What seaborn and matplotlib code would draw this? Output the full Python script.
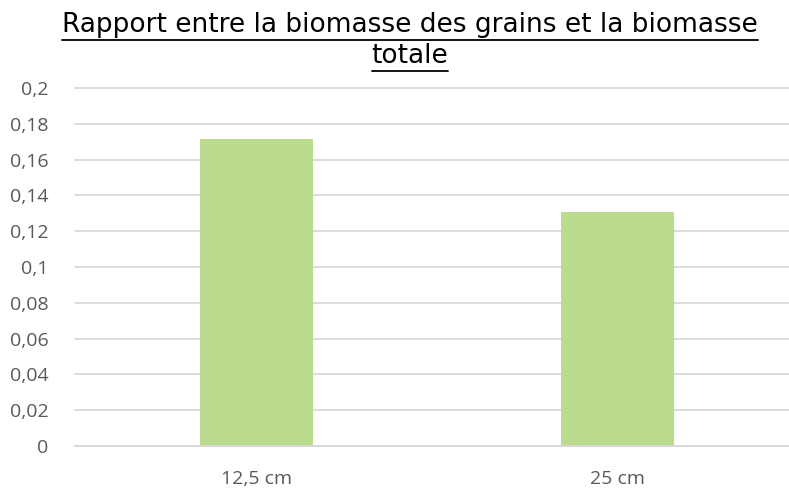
import matplotlib
matplotlib.use("Agg")
import matplotlib.pyplot as plt
import seaborn as sns
from matplotlib.lines import Line2D

categories = ["12,5 cm", "25 cm"]
values = [0.1715, 0.1307]
y_ticks = [0, 0.02, 0.04, 0.06, 0.08, 0.1, 0.12, 0.14, 0.16, 0.18, 0.2]
y_tick_labels = ["0", "0,02", "0,04", "0,06", "0,08", "0,1", "0,12", "0,14", "0,16", "0,18", "0,2"]
title_lines = ["Rapport entre la biomasse des grains et la biomasse", "totale"]

sns.set_theme(style="white")
plt.rcParams["font.family"] = ["Open Sans", "DejaVu Sans"]

W, H = 789, 488
fig = plt.figure(figsize=(W / 100, H / 100), dpi=100)
ax = fig.add_axes([75 / W, 1 - 446 / H, (789 - 75) / W, (446 - 88) / H])

sns.barplot(x=categories, y=values, color="#BBDC8E", saturation=1, width=0.313,
            linewidth=0, edgecolor="none", ax=ax)

ax.set_xlim(-0.503, 1.475)
ax.set_ylim(0, 0.2)
ax.set_yticks(y_ticks)
ax.set_yticklabels(y_tick_labels)
ax.yaxis.grid(True, color="#D9D9D9", linewidth=1.3)
for gl in ax.get_ygridlines():
    gl.set_clip_on(False)
ax.set_axisbelow(True)
for s in ["top", "right", "left"]:
    ax.spines[s].set_visible(False)
ax.spines["bottom"].set_color("#D9D9D9")
ax.spines["bottom"].set_linewidth(1.3)
ax.tick_params(axis="y", length=0, pad=19, labelsize=14, labelcolor="#595959")
ax.tick_params(axis="x", length=0, pad=17, labelsize=14, labelcolor="#595959")
ax.set_xlabel("")
ax.set_ylabel("")

# Title with underline
tx = 410 / W
t1 = fig.text(tx, 1 - 25 / H, title_lines[0], ha="center", va="center",
              fontsize=19, color="#000000", family=["DejaVu Sans"])
t2 = fig.text(tx, 1 - 56 / H, title_lines[1], ha="center", va="center",
              fontsize=19, color="#000000", family=["DejaVu Sans"])
fig.canvas.draw()
r = fig.canvas.get_renderer()
for t, yline in [(t1, 40), (t2, 71)]:
    bb = t.get_window_extent(r)
    x0, x1 = bb.x0 / W, bb.x1 / W
    yy = 1 - yline / H
    fig.add_artist(Line2D([x0, x1], [yy, yy], transform=fig.transFigure, color="black", linewidth=1.3))

fig.savefig("out.png", dpi=100)
